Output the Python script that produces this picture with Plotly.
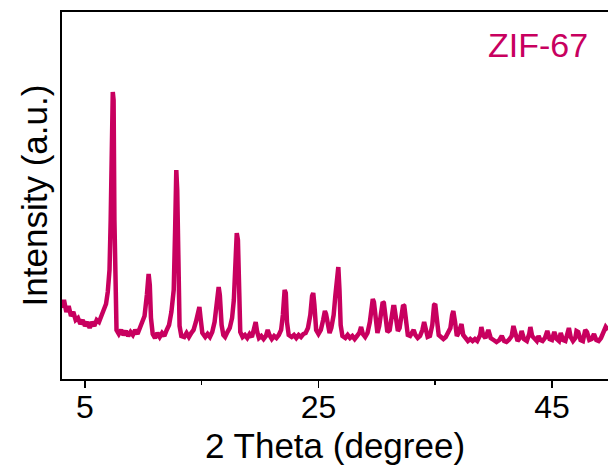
import plotly.graph_objects as go

# XRD pattern of ZIF-67
two_theta = [
    3.03, 3.2, 3.4, 3.6, 3.8, 4.0, 4.2, 4.4, 4.6, 4.8,
    5.0, 5.2, 5.4, 5.6, 5.8, 6.0, 6.2, 6.4, 6.6, 6.8,
    6.95, 7.1, 7.2, 7.3, 7.38, 7.45, 7.52, 7.6, 7.7, 7.9,
    8.1, 8.3, 8.5, 8.7, 8.9, 9.1, 9.3, 9.5, 9.7, 9.9,
    10.1, 10.3, 10.45, 10.55, 10.65, 10.8, 11.0, 11.2, 11.4, 11.6,
    11.8, 12.0, 12.2, 12.4, 12.6, 12.72, 12.82, 12.9, 13.0, 13.1,
    13.25, 13.5, 13.7, 13.9, 14.1, 14.3, 14.5, 14.7, 14.8, 14.9,
    15.05, 15.3, 15.5, 15.7, 15.9, 16.1, 16.3, 16.45, 16.55, 16.7,
    16.85, 17.0, 17.2, 17.4, 17.6, 17.75, 17.9, 18.0, 18.1, 18.2,
    18.3, 18.5, 18.7, 18.9, 19.1, 19.3, 19.5, 19.62, 19.75, 19.9,
    20.1, 20.3, 20.5, 20.65, 20.8, 21.0, 21.2, 21.4, 21.6, 21.8,
    21.95, 22.1, 22.2, 22.3, 22.45, 22.7, 22.9, 23.1, 23.3, 23.5,
    23.7, 23.9, 24.1, 24.3, 24.45, 24.55, 24.65, 24.8, 25.0, 25.2,
    25.4, 25.55, 25.65, 25.8, 25.95, 26.1, 26.3, 26.45, 26.6, 26.7,
    26.8, 26.9, 27.05, 27.3, 27.5, 27.7, 27.9, 28.1, 28.3, 28.5,
    28.65, 28.8, 29.0, 29.2, 29.4, 29.55, 29.65, 29.75, 29.9, 30.05,
    30.2, 30.35, 30.5, 30.6, 30.75, 30.9, 31.1, 31.25, 31.4, 31.5,
    31.65, 31.8, 31.95, 32.1, 32.25, 32.35, 32.5, 32.65, 32.85, 33.0,
    33.15, 33.3, 33.5, 33.7, 33.9, 34.05, 34.2, 34.35, 34.55, 34.75,
    34.9, 35.0, 35.15, 35.3, 35.5, 35.7, 35.9, 36.1, 36.3, 36.45,
    36.55, 36.7, 36.85, 37.0, 37.15, 37.25, 37.4, 37.6, 37.8, 38.0,
    38.2, 38.4, 38.6, 38.85, 38.95, 39.1, 39.3, 39.55, 39.75, 40.0,
    40.25, 40.5, 40.7, 40.9, 41.1, 41.3, 41.55, 41.7, 41.85, 42.05,
    42.25, 42.4, 42.6, 42.85, 43.05, 43.15, 43.3, 43.5, 43.7, 43.85,
    44.0, 44.2, 44.4, 44.6, 44.8, 45.0, 45.2, 45.4, 45.6, 45.75,
    45.95, 46.15, 46.35, 46.45, 46.6, 46.8, 47.0, 47.1, 47.25, 47.45,
    47.65, 47.85, 48.0, 48.2, 48.4, 48.6, 48.8, 49.0, 49.2, 49.4,
    49.6, 49.8,
]

intensity = [
    71, 79, 67, 73, 63, 67, 59, 61, 55, 59,
    53, 57, 51, 57, 53, 59, 57, 63, 67, 75,
    87, 109, 159, 229, 287, 279, 159, 69, 49, 45,
    49, 44, 48, 43, 47, 44, 49, 45, 51, 54,
    63, 84, 105, 94, 61, 45, 41, 46, 42, 46,
    43, 49, 54, 67, 89, 149, 209, 189, 99, 53,
    43, 42, 46, 42, 46, 49, 57, 71, 72, 61,
    46, 42, 45, 42, 47, 57, 79, 92, 84, 54,
    44, 42, 47, 51, 61, 79, 119, 146, 139, 79,
    47, 42, 44, 41, 45, 42, 51, 57, 47, 41,
    43, 40, 43, 49, 44, 40, 43, 41, 44, 49,
    64, 89, 86, 57, 44, 42, 44, 41, 44, 42,
    45, 46, 51, 64, 83, 86, 74, 49, 45, 49,
    59, 68, 65, 51, 46, 51, 64, 84, 111, 112,
    89, 54, 43, 41, 44, 41, 43, 40, 43, 46,
    52, 45, 42, 46, 57, 74, 80, 77, 57, 46,
    53, 67, 77, 76, 59, 47, 49, 59, 72, 72,
    57, 48, 51, 61, 74, 73, 54, 44, 43, 47,
    49, 44, 41, 43, 49, 57, 51, 42, 43, 54,
    74, 75, 59, 44, 42, 40, 42, 46, 51, 64,
    68, 57, 43, 46, 53, 55, 44, 40, 38, 40,
    38, 40, 38, 44, 52, 44, 41, 49, 41, 39,
    37, 39, 43, 38, 37, 39, 43, 53, 46, 38,
    41, 48, 40, 38, 45, 52, 43, 40, 38, 43,
    39, 38, 41, 48, 40, 39, 47, 40, 38, 46,
    39, 38, 46, 51, 42, 38, 41, 48, 47, 39,
    38, 49, 47, 39, 40, 45, 39, 38, 41, 47,
    52, 49,
]

assert len(two_theta) == len(intensity), (len(two_theta), len(intensity))

x_tick_vals = [5, 25, 45]
x_tick_text = ["5", "25", "45"]
sample_label = "ZIF-67"
x_title = "2 Theta (degree)"
y_title = "Intensity (a.u.)"

line_color = "#C8005F"
font_family = "Liberation Sans, Arial, sans-serif"

fig = go.Figure()
fig.add_trace(go.Scatter(
    x=two_theta, y=intensity, mode="lines",
    line=dict(color=line_color, width=4.5),
    showlegend=False, hoverinfo="skip",
))

fig.update_layout(
    width=608, height=470,
    margin=dict(l=62, r=0, t=12, b=91, autoexpand=False),
    paper_bgcolor="white", plot_bgcolor="white",
    font=dict(family=font_family, color="black", size=32),
    xaxis=dict(
        range=[3.03, 49.8], automargin=False,
        tickmode="array", tickvals=x_tick_vals, ticktext=x_tick_text,
        ticks="outside", ticklen=7, tickwidth=1.5, tickcolor="black",
        minor=dict(dtick=10, tick0=5, ticks="outside", ticklen=4, tickwidth=1.5, tickcolor="black"),
        showline=True, linecolor="black", linewidth=1.8, mirror=True,
        showgrid=False, zeroline=False,
        tickfont=dict(size=32), ticklabelstandoff=-8,
    ),
    yaxis=dict(
        range=[0, 367], automargin=False,
        showticklabels=False, ticks="",
        showline=True, linecolor="black", linewidth=1.8, mirror=False,
        showgrid=False, zeroline=False,
        title=dict(text=y_title, font=dict(size=35), standoff=2),
    ),
    annotations=[
        dict(
            text=sample_label, xref="paper", yref="paper",
            x=0.872, y=0.91, xanchor="center", yanchor="middle",
            showarrow=False, font=dict(size=34, color=line_color),
        ),
        dict(
            text=x_title, xref="paper", yref="paper",
            x=0.5, y=0, yshift=-66, xanchor="center", yanchor="middle",
            showarrow=False, font=dict(size=35, color="black"),
        ),
    ],
)

fig.write_html(
    "out.html",
    config={"displayModeBar": False, "staticPlot": True},
    post_script="document.body.style.margin='0';",
)
